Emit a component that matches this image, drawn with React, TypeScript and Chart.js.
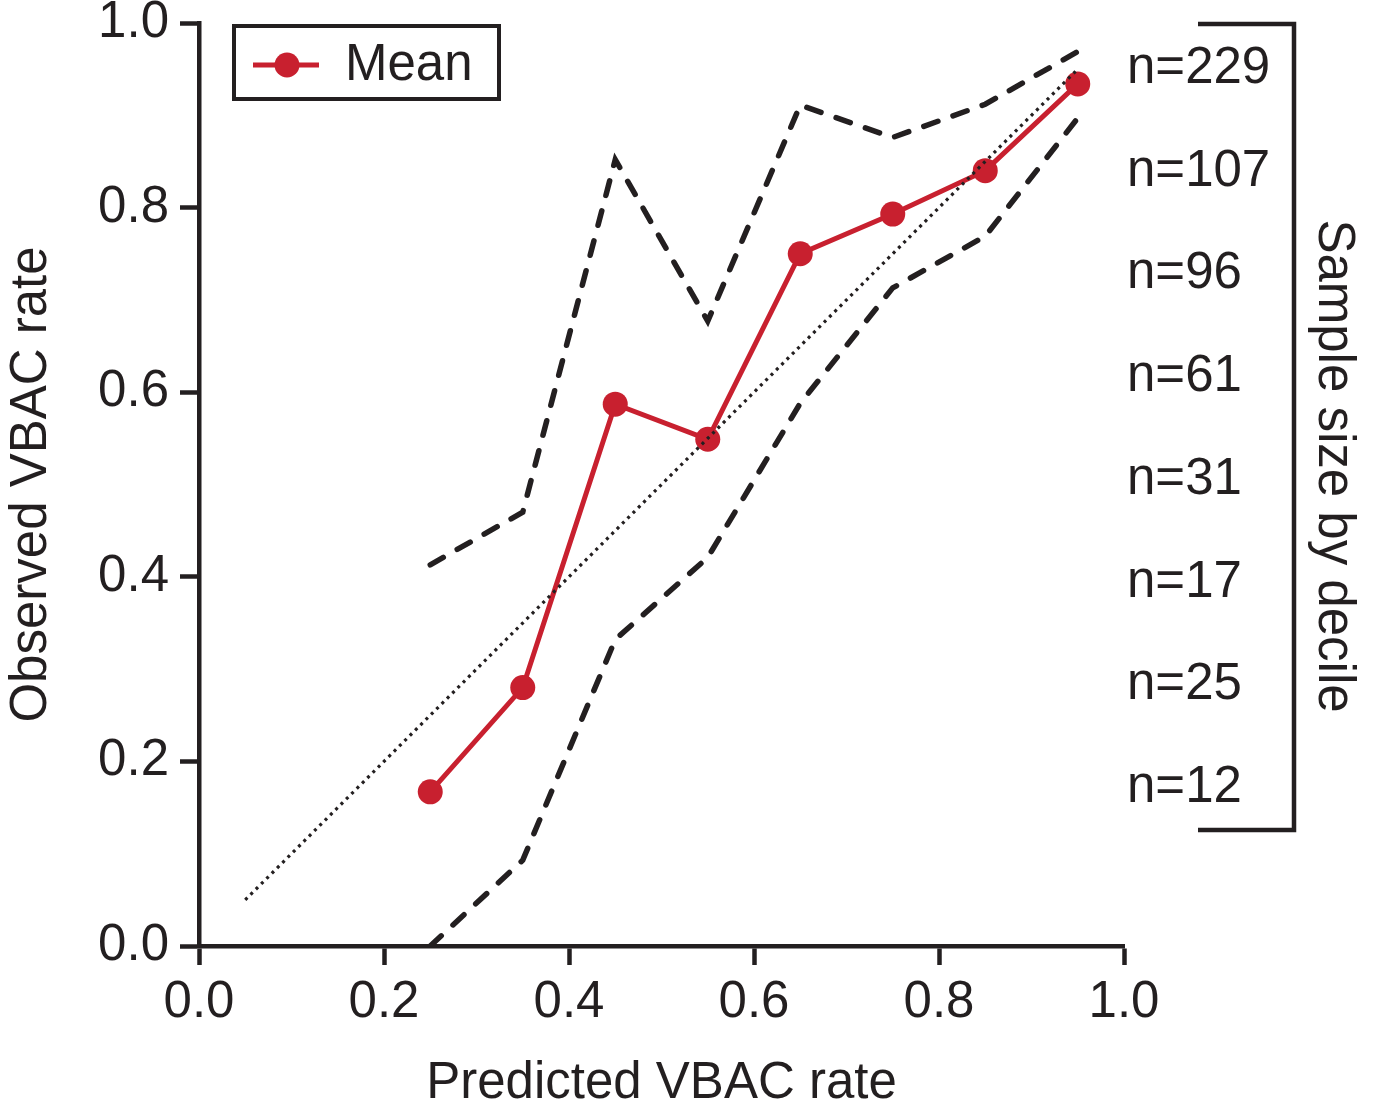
import React, { useEffect, useRef } from "react";
import { Chart, registerables } from "chart.js";

Chart.register(...registerables);

// ---- data ----
const decileMidpoints = [0.25, 0.35, 0.45, 0.55, 0.65, 0.75, 0.85, 0.95];
const meanObserved = [0.167, 0.28, 0.587, 0.549, 0.75, 0.793, 0.84, 0.934];
const upperBound = [0.413, 0.47, 0.852, 0.677, 0.911, 0.876, 0.912, 0.969];
const lowerBound = [0.0, 0.093, 0.332, 0.421, 0.588, 0.713, 0.769, 0.897];
const referenceX = [0.05, 0.95];
const referenceY = [0.05, 0.95];
const sampleSizeLabels = ["n=229", "n=107", "n=96", "n=61", "n=31", "n=17", "n=25", "n=12"];
const axisTickValues = [0, 0.2, 0.4, 0.6, 0.8, 1.0];
const legendLabel = "Mean";
const xTitle = "Predicted VBAC rate";
const yTitle = "Observed VBAC rate";
const rightTitle = "Sample size by decile";

// ---- style ----
const INK = "#231f20";
const RED = "#c8202f";
const FONT = "'Liberation Sans', Arial, Helvetica, sans-serif";
const FONT_SIZE = 51;

const toPoints = (xs: number[], ys: number[]) => xs.map((x, i) => ({ x, y: ys[i] }));

const overlayPlugin = {
  id: "overlay",
  afterDraw(chart: any) {
    const { ctx, chartArea: a } = chart;
    const h = a.bottom - a.top;
    const k = h / 923;
    ctx.save();

    // legend box
    ctx.lineWidth = 4;
    ctx.strokeStyle = INK;
    ctx.lineJoin = "miter";
    ctx.strokeRect(a.left + 35, a.top + 3, 265, 73);
    const ly = a.top + 42;
    ctx.strokeStyle = RED;
    ctx.lineWidth = 5;
    ctx.beginPath();
    ctx.moveTo(a.left + 54, ly);
    ctx.lineTo(a.left + 120, ly);
    ctx.stroke();
    ctx.fillStyle = RED;
    ctx.beginPath();
    ctx.arc(a.left + 88, ly, 12.5, 0, Math.PI * 2);
    ctx.fill();
    ctx.fillStyle = INK;
    ctx.font = `${FONT_SIZE}px ${FONT}`;
    ctx.textAlign = "left";
    ctx.textBaseline = "alphabetic";
    ctx.fillText(legendLabel, a.left + 146, a.top + 57);

    // sample size labels
    sampleSizeLabels.forEach((lab, i) => {
      ctx.fillText(lab, a.right + 3, a.top + (60 + i * 102.7) * k);
    });

    // bracket
    ctx.strokeStyle = INK;
    ctx.lineWidth = 4.5;
    ctx.beginPath();
    ctx.moveTo(a.right + 74, a.top + 1);
    ctx.lineTo(a.right + 170, a.top + 1);
    ctx.lineTo(a.right + 170, a.top + 807 * k);
    ctx.lineTo(a.right + 74, a.top + 807 * k);
    ctx.stroke();

    // right title
    ctx.translate(a.right + 195, a.top + 443 * k);
    ctx.rotate(Math.PI / 2);
    ctx.textAlign = "center";
    ctx.textBaseline = "alphabetic";
    ctx.fillText(rightTitle, 0, 0);
    ctx.restore();
  },
};

export default function App() {
  const canvasRef = useRef<HTMLCanvasElement | null>(null);

  useEffect(() => {
    const canvas = canvasRef.current;
    if (!canvas) return;
    Chart.defaults.font.family = FONT;
    const tickFont = { family: FONT, size: FONT_SIZE, lineHeight: 1.2 };
    const titleFont = { family: FONT, size: FONT_SIZE, lineHeight: 1.05 };

    const chart = new Chart(canvas, {
      type: "line",
      data: {
        datasets: [
          {
            label: "Reference",
            data: toPoints(referenceX, referenceY),
            borderColor: INK,
            borderWidth: 3.2,
            borderDash: [3, 4.5],
            pointRadius: 0,
            fill: false,
            order: 0,
          },
          {
            label: legendLabel,
            data: toPoints(decileMidpoints, meanObserved),
            borderColor: RED,
            backgroundColor: RED,
            borderWidth: 5,
            pointRadius: 12.5,
            pointBorderWidth: 0,
            pointBackgroundColor: RED,
            fill: false,
            order: 1,
          },
          {
            label: "Upper",
            data: toPoints(decileMidpoints, upperBound),
            borderColor: INK,
            borderWidth: 5.5,
            borderDash: [15, 16],
            borderCapStyle: "round",
            pointRadius: 0,
            fill: false,
            order: 2,
          },
          {
            label: "Lower",
            data: toPoints(decileMidpoints, lowerBound),
            borderColor: INK,
            borderWidth: 5.5,
            borderDash: [15, 16],
            borderCapStyle: "round",
            pointRadius: 0,
            fill: false,
            order: 2,
          },
        ],
      },
      options: {
        responsive: false,
        animation: false,
        devicePixelRatio: 1,
        layout: { padding: { left: 0, right: 249, top: 23, bottom: 0 } },
        plugins: {
          legend: { display: false },
          tooltip: { enabled: false },
        },
        scales: {
          x: {
            type: "linear",
            min: 0,
            max: 1,
            afterBuildTicks: (s: any) => {
              s.ticks = axisTickValues.map((v) => ({ value: v }));
            },
            afterFit: (s: any) => {
              s.height = 165;
              s.paddingLeft = 0;
              s.paddingRight = 0;
            },
            ticks: {
              callback: (v: any) => Number(v).toFixed(1),
              font: tickFont,
              color: INK,
              padding: 7,
              maxRotation: 0,
              autoSkip: false,
            },
            grid: {
              drawOnChartArea: false,
              drawTicks: true,
              tickLength: 19,
              tickWidth: 4.5,
              tickColor: INK,
            },
            border: { display: true, width: 4.5, color: INK },
            title: {
              display: true,
              text: xTitle,
              color: INK,
              font: titleFont,
              padding: { top: 0, bottom: 0 },
            },
          },
          y: {
            type: "linear",
            min: 0,
            max: 1,
            afterBuildTicks: (s: any) => {
              s.ticks = axisTickValues.map((v) => ({ value: v }));
            },
            afterFit: (s: any) => {
              s.width = 199;
              s.paddingTop = 0;
              s.paddingBottom = 0;
            },
            ticks: {
              callback: (v: any) => Number(v).toFixed(1),
              font: tickFont,
              color: INK,
              padding: 11,
              autoSkip: false,
            },
            grid: {
              drawOnChartArea: false,
              drawTicks: true,
              tickLength: 19,
              tickWidth: 4.5,
              tickColor: INK,
            },
            border: { display: true, width: 4.5, color: INK },
            title: {
              display: true,
              text: yTitle,
              color: INK,
              font: titleFont,
              padding: { top: 5, bottom: 0 },
            },
          },
        },
      } as any,
      plugins: [overlayPlugin],
    });

    return () => chart.destroy();
  }, []);

  return (
    <canvas
      ref={canvasRef}
      width={1373}
      height={1111}
      style={{ position: "fixed", left: 0, top: 0, width: 1373, height: 1111, background: "#fff" }}
    />
  );
}
